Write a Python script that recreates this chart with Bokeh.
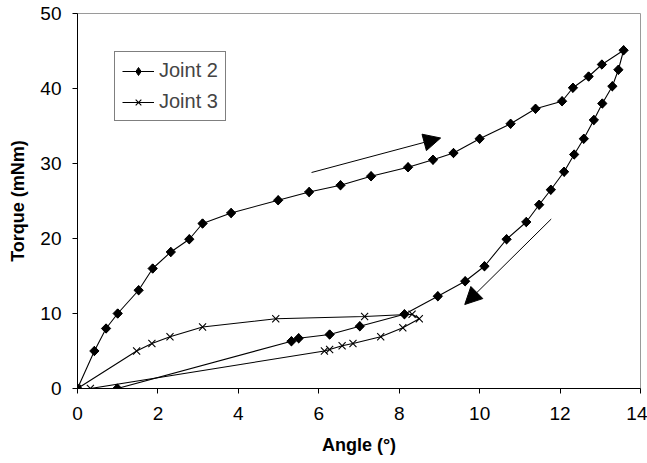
import math
from bokeh.plotting import figure
from bokeh.models import Arrow, NormalHead, Legend, LegendItem, Range1d, FixedTicker
from bokeh.embed import file_html
from bokeh.resources import INLINE

# ---- data ----
joint2_angle = [0, 0.42, 0.71, 1.0, 1.52, 1.87, 2.32, 2.78, 3.11, 3.82, 4.99, 5.76, 6.54,
                7.30, 8.22, 8.84, 9.35, 10.0, 10.77, 11.39, 12.05, 12.32, 12.71, 13.04, 13.58,
                13.45, 13.30, 13.05, 12.84, 12.59, 12.35, 12.10, 11.77, 11.48, 11.16, 10.67,
                10.12, 9.64, 8.96, 8.13, 7.02, 6.27, 5.50, 5.32, 0.99]
joint2_torque = [0, 5.0, 8.0, 10.0, 13.1, 16.0, 18.2, 19.9, 22.0, 23.4, 25.1, 26.2, 27.1,
                 28.3, 29.5, 30.5, 31.4, 33.3, 35.3, 37.3, 38.3, 40.1, 41.6, 43.2, 45.1,
                 42.5, 40.3, 38.0, 35.8, 33.3, 31.2, 28.9, 26.5, 24.5, 22.2, 19.9,
                 16.3, 14.3, 12.3, 9.9, 8.3, 7.2, 6.7, 6.3, 0]

joint3_angle = [0, 1.47, 1.85, 2.30, 3.11, 4.93, 7.14, 8.32, 8.50, 8.09, 7.54, 6.85, 6.58,
                6.27, 6.14, 0.32]
joint3_torque = [0, 5.0, 6.0, 6.9, 8.2, 9.3, 9.6, 9.9, 9.3, 8.1, 6.9, 6.0, 5.7,
                 5.2, 5.0, 0]

# direction arrows (start -> end, data units)
arrow_x_start = [5.82, 11.78]
arrow_y_start = [28.8, 22.6]
arrow_x_end = [9.03, 9.63]
arrow_y_end = [33.4, 11.2]

x_ticks = [0, 2, 4, 6, 8, 10, 12, 14]
y_ticks = [0, 10, 20, 30, 40, 50]

FONT = "Liberation Sans"

p = figure(width=647, height=463, output_backend="svg", toolbar_location=None,
           x_range=Range1d(0, 14), y_range=Range1d(0, 50),
           min_border_left=77, min_border_right=7, min_border_top=13, min_border_bottom=75,
           x_axis_label="Angle (°)", y_axis_label="Torque (mNm)")

p.xgrid.visible = False
p.ygrid.visible = False
p.outline_line_color = "#9a9a9a"
p.outline_line_width = 1
p.background_fill_color = "white"
p.border_fill_color = "white"

for ax, ticks in ((p.xaxis[0], x_ticks), (p.yaxis[0], y_ticks)):
    ax.ticker = FixedTicker(ticks=ticks)
    ax.axis_line_color = "black"
    ax.axis_line_width = 1
    ax.major_tick_line_color = "black"
    ax.major_tick_in = 0
    ax.major_tick_out = 5
    ax.minor_tick_line_color = None
    ax.major_label_text_font = FONT
    ax.major_label_text_font_size = "19px"
    ax.major_label_text_color = "black"
    ax.axis_label_text_font = FONT
    ax.axis_label_text_font_size = "18px"
    ax.axis_label_text_font_style = "bold"
    ax.axis_label_text_color = "black"

p.xaxis.major_label_standoff = 13
p.xaxis.axis_label_standoff = 12
p.yaxis.major_label_standoff = 11
p.yaxis.axis_label_standoff = 9

l2 = p.line(joint2_angle, joint2_torque, line_color="black", line_width=1.1)
# rotated squares give the wide diamond seen in the reference
s2 = p.scatter(joint2_angle, joint2_torque, marker="square", angle=math.pi / 4,
               size=6.6, fill_color="black", line_color="black")
# a diamond of the same height sits inside it and supplies the legend glyph
d2 = p.scatter(joint2_angle, joint2_torque, marker="diamond",
               size=9, fill_color="black", line_color="black")
l3 = p.line(joint3_angle, joint3_torque, line_color="black", line_width=1.1)
s3 = p.scatter(joint3_angle, joint3_torque, marker="x", size=10,
               line_color="black", line_width=1.1)

for xs, ys, xe, ye in zip(arrow_x_start, arrow_y_start, arrow_x_end, arrow_y_end):
    p.add_layout(Arrow(x_start=xs, y_start=ys, x_end=xe, y_end=ye,
                       line_color="black", line_width=1,
                       end=NormalHead(size=17, fill_color="black", line_color="black")))

legend = Legend(items=[LegendItem(label="Joint 2", renderers=[l2, d2]),
                       LegendItem(label="Joint 3", renderers=[l3, s3])],
                location=(37, 267), margin=0, padding=7, spacing=8,
                glyph_width=32, glyph_height=20, label_height=20, label_standoff=5,
                label_text_font=FONT, label_text_font_size="20px",
                border_line_color="black", border_line_width=1,
                background_fill_alpha=1)
p.add_layout(legend)

open("out.html", "w").write(file_html(p, INLINE))
